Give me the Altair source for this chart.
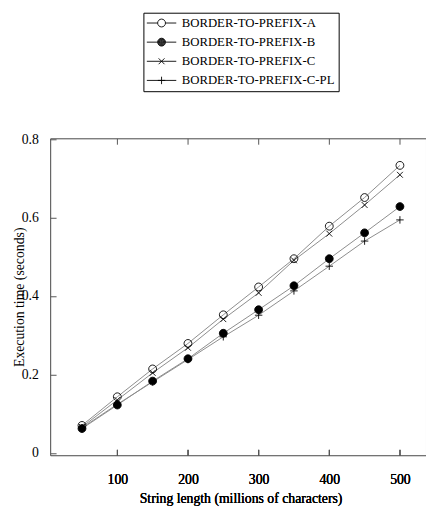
import altair as alt
import pandas as pd

# ---- data ----
lengths = [50, 100, 150, 200, 250, 300, 350, 400, 450, 500]
series_names = ["Border-to-Prefix-A", "Border-to-Prefix-B",
                "Border-to-Prefix-C", "Border-to-Prefix-C-PL"]
vals_a = [0.070, 0.143, 0.214, 0.279, 0.352, 0.423, 0.495, 0.578, 0.651, 0.733]
vals_b = [0.062, 0.122, 0.183, 0.240, 0.305, 0.365, 0.426, 0.495, 0.561, 0.628]
vals_c = [0.066, 0.135, 0.204, 0.268, 0.341, 0.408, 0.491, 0.559, 0.632, 0.709]
vals_cpl = [0.064, 0.124, 0.181, 0.238, 0.296, 0.351, 0.413, 0.476, 0.540, 0.594]
x_ticks = [100, 200, 300, 400, 500]
y_ticks = [0, 0.2, 0.4, 0.6, 0.8]

rows = []
for name, vals in zip(series_names, [vals_a, vals_b, vals_c, vals_cpl]):
    for x, v in zip(lengths, vals):
        rows.append({"series": name, "len": x, "time": v})
df = pd.DataFrame(rows)

# ---- marker shapes ----
def circle_path(r):
    return f"M{r},0A{r},{r} 0 1,0 -{r},0A{r},{r} 0 1,0 {r},0Z"

circ = circle_path(1)
disc = "".join(circle_path(r) for r in [1, 0.85, 0.7, 0.55, 0.4, 0.25, 0.1])
xmark = "M-0.75,-0.75L0.75,0.75M-0.75,0.75L0.75,-0.75"
plus = "M-0.95,0L0.95,0M0,-0.95L0,0.95"
seg_split = "M-3.75,0L-1,0M1,0L3.75,0"
seg_full = "M-3.75,0L3.75,0"
plot_shapes = [circ, circ, xmark, plus]
legend_shapes = [seg_split + circ, seg_split + disc,
                 seg_full + xmark, seg_full + plus]

FONT = "Liberation Serif"

xscale = alt.Scale(domain=[5, 536.9], nice=False, zero=False)
yscale = alt.Scale(domain=[-0.006, 0.802], nice=False, zero=False)

x_axis = alt.Axis(orient="bottom", values=x_ticks, domain=False, grid=False,
                  offset=-6, tickSize=6, labelPadding=18,
                  title="String length (millions of characters)",
                  titleX=194, titleY=54,
                  titleBaseline="alphabetic", titleAlign="center")
x_top_axis = alt.Axis(orient="top", values=x_ticks, domain=False, grid=False,
                      labels=False, offset=-6, tickSize=6, title=None)
y_axis = alt.Axis(orient="left", values=y_ticks, format="~g", domain=False,
                  grid=False, offset=-6, tickSize=6, labelPadding=12,
                  title="Execution time (seconds)",
                  titleAngle=270, titleX=-37,
                  titleY=161.5, titleAlign="center", titleBaseline="middle")

X = alt.X("len:Q", scale=xscale, axis=x_axis)
Y = alt.Y("time:Q", scale=yscale, axis=y_axis)

base = alt.Chart(df)

lines = base.mark_line(color="#8c8c8c", strokeWidth=1).encode(
    x=X, y=Y, detail="series:N",
)

top_axis = base.mark_point(opacity=0).encode(
    x=alt.X("len:Q", scale=xscale, axis=x_top_axis),
    y=Y,
)

points = base.mark_point(filled=True, stroke="black", strokeWidth=0.9,
                         size=64, opacity=1).encode(
    x=X, y=Y,
    shape=alt.Shape("series:N", scale=alt.Scale(domain=series_names, range=plot_shapes),
                    legend=None),
    fill=alt.Fill("series:N",
                  scale=alt.Scale(domain=series_names,
                                  range=["transparent", "black", "transparent", "transparent"]),
                  legend=None),
)

legend_layer = base.mark_point(filled=False, color="black",
                               strokeWidth=0.9, opacity=0).encode(
    x=X, y=Y,
    shape=alt.Shape("series:N",
                    scale=alt.Scale(domain=series_names, range=legend_shapes),
                    legend=alt.Legend(orient="none", legendX=95, legendY=-128,
                                      direction="vertical", title=None,
                                      strokeColor="black", fillColor="white",
                                      padding=4, cornerRadius=0,
                                      symbolSize=64, symbolOpacity=1,
                                      symbolStrokeColor="black",
                                      symbolStrokeWidth=0.9,
                                      symbolOffset=8, labelOffset=14,
                                      rowPadding=5.5,
                                      labelExpr="upper(datum.label)",
                                      labelFont=FONT, labelFontSize=13,
                                      labelColor="black", labelLimit=400)),
)

chart = (
    alt.layer(lines, top_axis, points, legend_layer)
    .resolve_scale(shape="independent", fill="independent")
    .properties(width=383, height=323,
                autosize=alt.AutoSizeParams(type="none"),
                padding={"left": 43, "top": 128, "right": 0, "bottom": 51})
    .configure(background="white")
    .configure_view(stroke="#444", strokeWidth=1)
    .configure_axis(labelFont=FONT, labelFontSize=14, labelColor="black",
                    titleFont=FONT, titleFontSize=14, titleFontWeight="normal",
                    titleColor="black", tickColor="#555", tickWidth=1)
)

chart.save("out.html", embed_options={"renderer": "svg", "actions": False})
